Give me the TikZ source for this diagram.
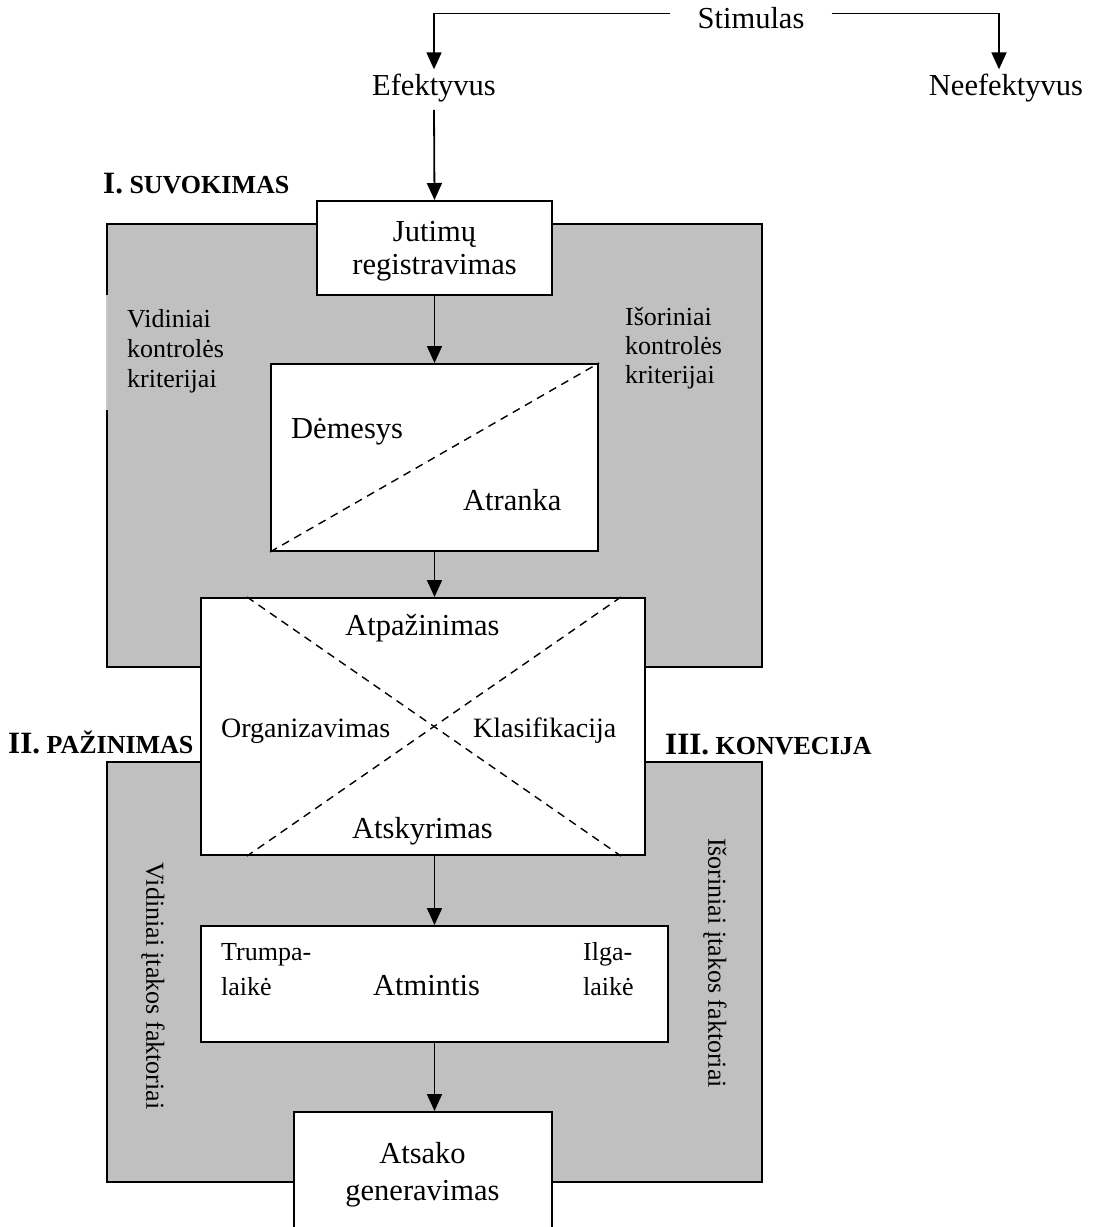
\documentclass[tikz,border=0pt]{standalone}
\usepackage{fontspec}
\setmainfont{Liberation Serif}
\usetikzlibrary{arrows.meta}
\definecolor{panelgray}{HTML}{C0C0C0}
\definecolor{edgegray}{HTML}{C8C8C8}
\begin{document}
\begin{tikzpicture}[x=1pt,y=-1pt,
  panel/.style={fill=panelgray, draw=black, line width=2pt},
  box/.style={draw=black, fill=white, line width=2pt, inner sep=0pt},
  arr/.style={line width=1.8pt, -{Triangle[width=15pt,length=17pt]}},
  guide/.style={dash pattern=on 8pt off 6pt, line width=1.4pt},
  big/.style={font=\fontsize{30.5}{33.5}\selectfont, inner sep=0pt},
  mid/.style={font=\fontsize{28}{32}\selectfont, inner sep=0pt},
  small/.style={font=\fontsize{26}{29.5}\selectfont, inner sep=0pt},
  head/.style={font=\bfseries\fontsize{26}{30}\selectfont, inner sep=0pt},
]
\useasboundingbox (0,0) rectangle (1093,1227);

% grey background panels
\path[panel] (107,224) rectangle (762,667);
\path[panel] (107,762) rectangle (762,1182);
% the label patch that hides part of the upper panel's left edge
\fill[edgegray] (105.8,295) rectangle (108.2,410);

% process boxes
\node[box, minimum width=235pt, minimum height=94pt]  (jut) at (434.5,248)   {};
\node[box, minimum width=327pt, minimum height=187pt] (dem) at (434.5,457.5) {};
\node[box, minimum width=444pt, minimum height=257pt] (xb)  at (423,726.5)   {};
\node[box, minimum width=467pt, minimum height=116pt] (atm) at (434.5,984)   {};
\node[box, minimum width=258pt, minimum height=140pt] (ats) at (423,1182)    {};

% dashed dividers
\draw[guide] (dem.south west) -- (dem.north east);
\draw[guide] ([xshift=47pt]xb.north west) -- ([xshift=-25pt]xb.south east);
\draw[guide] ([xshift=-25pt]xb.north east) -- ([xshift=47pt]xb.south west);

% stimulus branch
\node[big, anchor=base, inner xsep=27pt] (stim) at (751,28) {Stimulas};
\node[big, anchor=base] (ef)  at (434,95)  {Efektyvus};
\node[big, anchor=base] (nef) at (1006,95) {Neefektyvus};
\draw[arr] ([yshift=4pt]stim.west) -| ([yshift=4pt]ef.north);
\draw[arr] ([yshift=4pt]stim.east) -| ([xshift=-7pt,yshift=4pt]nef.north);

% main flow
\draw[arr] ([yshift=-8pt]ef.south) -- (jut.north);
\draw[arr] (jut.south) -- (dem.north);
\draw[arr] (dem.south) -- (dem.south |- xb.north);
\draw[arr] (xb.south -| atm.north) -- (atm.north);
\draw[arr] (atm.south) -- (atm.south |- ats.north);

% box texts
\node[big, anchor=base] (jut1) at (434.5,241) {Jutimų};
\node[big, anchor=base] (jut2) at (434.5,274) {registravimas};
\node[big, anchor=base west] (demt) at (291,438) {Dėmesys};
\node[big, anchor=base west] (atr)  at (463,510) {Atranka};
\node[big, anchor=base] (atp)  at (422.5,635) {Atpažinimas};
\node[mid, anchor=base west] (org) at (221,737) {Organizavimas};
\node[mid, anchor=base west] (kla) at (473,737) {Klasifikacija};
\node[big, anchor=base] (atsk) at (422.5,838) {Atskyrimas};
\node[small, anchor=base west] (tr1) at (221,960) {Trumpa-};
\node[small, anchor=base west] (tr2) at (221,995) {laikė};
\node[big, anchor=base west] (atmt) at (373,995) {Atmintis};
\node[small, anchor=base west] (il1) at (583,960) {Ilga-};
\node[small, anchor=base west] (il2) at (583,995) {laikė};
\node[big, anchor=base] (ats1) at (422.5,1163) {Atsako};
\node[big, anchor=base] (ats2) at (422.5,1200) {generavimas};

% side labels of the upper panel
\node[small, anchor=base west] (vk1) at (127,327) {Vidiniai};
\node[small, anchor=base west] (vk2) at (127,357) {kontrolės};
\node[small, anchor=base west] (vk3) at (127,387) {kriterijai};
\node[small, anchor=base west] (ik1) at (625,325) {Išoriniai};
\node[small, anchor=base west] (ik2) at (625,354) {kontrolės};
\node[small, anchor=base west] (ik3) at (625,383) {kriterijai};

% side labels of the lower panel
\node[small, rotate=-90] (vif) at (153,986) {Vidiniai įtakos faktoriai};
\node[small, rotate=-90] (isf) at (715,963) {Išoriniai įtakos faktoriai};

% stage headings
\node[head, anchor=base west] (h1) at (103,193) {{\fontsize{31}{34}\selectfont I.} SUVOKIMAS};
\node[head, anchor=base west] (h2) at (8,753)   {{\fontsize{31}{34}\selectfont II.} PAŽINIMAS};
\node[head, anchor=base west] (h3) at (665,754) {{\fontsize{31}{34}\selectfont III.} KONVECIJA};
\end{tikzpicture}
\end{document}
